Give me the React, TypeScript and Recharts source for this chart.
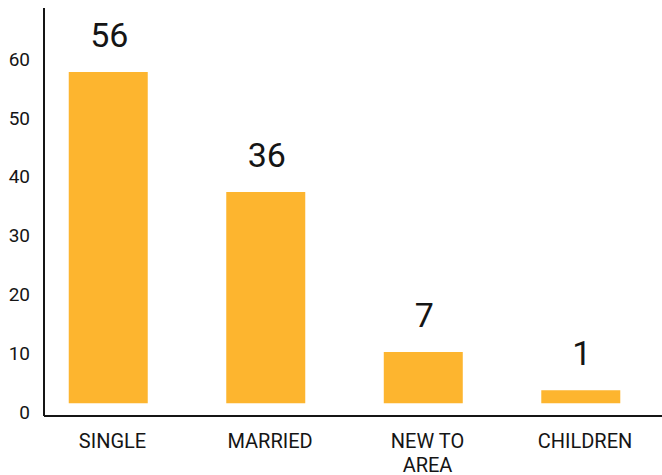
import { BarChart, Bar, XAxis, YAxis, LabelList } from 'recharts'

// categories, shown counts, and the bar extents as drawn in the picture
const categories = ['SINGLE', 'MARRIED', 'NEW TO\nAREA', 'CHILDREN']
const counts = [56, 36, 7, 1]
const barTops = [57.8, 37.4, 10.2, 3.7]
const barBase = 1.5
const yTicks = [0, 10, 20, 30, 40, 50, 60]

const data = categories.map((name, i) => ({
  idx: i,
  name,
  count: counts[i],
  range: [barBase, barTops[i]],
}))

const FONT = 'Roboto, "Noto Sans", sans-serif'
const INK = '#151515'

function CategoryTick({ x, y, payload }: any) {
  const lines = String(categories[payload.value] ?? '').split('\n')
  return (
    <text x={x + 4} y={y + 32} textAnchor="middle" fontFamily={FONT} fontSize={20} fill={INK}>
      {lines.map((l, i) => (
        <tspan key={i} x={x + 4} dy={i === 0 ? 0 : 23.5}>{l}</tspan>
      ))}
    </text>
  )
}

function CountLabel({ x, y, width, value }: any) {
  return (
    <text x={x + width / 2 + 1} y={y - 25} textAnchor="middle" fontFamily={FONT} fontSize={34} fill={INK}>
      {value}
    </text>
  )
}

export default function App() {
  return (
    <div style={{ position: 'absolute', left: 0, top: 0, width: 662, height: 475, background: '#fff' }}>
      <BarChart width={662} height={475} data={data} margin={{ top: 8, right: 0, bottom: 29, left: 0 }}>
        <XAxis
          dataKey="idx"
          type="number"
          height={30}
          domain={[-0.4095, 3.514]}
          ticks={[0, 1, 2, 3]}
          allowDataOverflow
          tickLine={false}
          tickSize={0}
          tickMargin={0}
          tick={<CategoryTick />}
          axisLine={{ stroke: INK, strokeWidth: 2 }}
        />
        <YAxis
          width={44}
          type="number"
          domain={[-0.68, 68.67]}
          ticks={yTicks}
          allowDataOverflow
          tickLine={false}
          tickSize={0}
          tickMargin={14}
          tick={{ fontFamily: FONT, fontSize: 19, fill: INK }}
          axisLine={{ stroke: INK, strokeWidth: 2 }}
        />
        <Bar dataKey="range" fill="#FDB52F" barSize={79} isAnimationActive={false}>
          <LabelList dataKey="count" content={<CountLabel />} />
        </Bar>
      </BarChart>
    </div>
  )
}
